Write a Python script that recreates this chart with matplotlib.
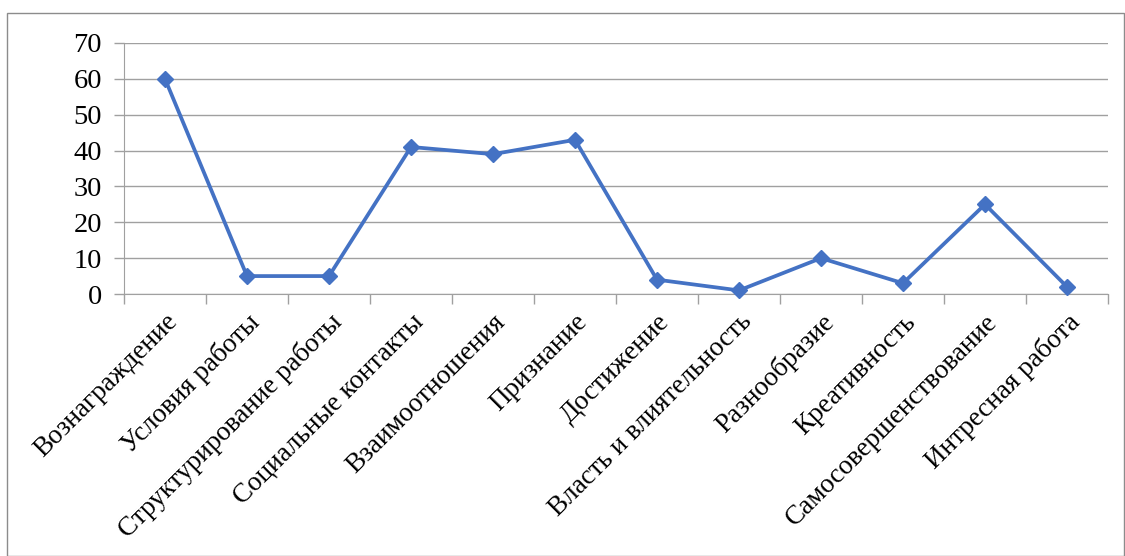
import matplotlib
matplotlib.use("Agg")
import matplotlib.pyplot as plt
from matplotlib.patches import Rectangle
import numpy as np

categories = ["Вознаграждение", "Условия работы", "Структурирование работы",
              "Социальные контакты", "Взаимоотношения", "Признание", "Достижение",
              "Власть и влиятельность", "Разнообразие", "Креативность",
              "Самосовершенствование", "Интресная работа"]
values = [60, 5, 5, 41, 39, 43, 4, 1, 10, 3, 25, 2]
yticks = [0, 10, 20, 30, 40, 50, 60, 70]

plt.rcParams['font.family'] = ['Liberation Serif', 'DejaVu Serif']

W, H = 1125, 556
fig = plt.figure(figsize=(W/100, H/100), dpi=100)
ax = fig.add_axes([124/W, 1-294/H, (1108-124)/W, (294-43)/H])

grid_c = "#A0A0A0"
line_c = "#4472C4"
n = len(categories)
x = np.arange(n)
ax.plot(x, values, color=line_c, linewidth=2.7, marker='D', markersize=8,
        markerfacecolor=line_c, markeredgecolor=line_c, zorder=3, clip_on=False)

ax.set_xlim(-0.5, n-0.5)
ax.set_ylim(0, 70)
ax.set_yticks(yticks)
ax.set_yticklabels([str(v) for v in yticks], fontsize=20.5)
ax.yaxis.grid(True, color=grid_c, linewidth=1)
ax.tick_params(axis='y', length=7, color=grid_c, width=1, pad=9)

ax.set_xticks(np.arange(-0.5, n, 1.0))
ax.set_xticklabels([])
ax.set_xticks(x, minor=True)
ax.set_xticklabels(categories, minor=True, rotation=45, ha='right',
                   rotation_mode='anchor', fontsize=19.5)
ax.tick_params(axis='x', which='major', length=7, color=grid_c, width=1)
ax.tick_params(axis='x', which='minor', length=0, pad=11)

for s in ['top', 'right']:
    ax.spines[s].set_visible(False)
ax.spines['left'].set_color(grid_c)
ax.spines['bottom'].set_color(grid_c)

fig.patches.append(Rectangle((7/W, 0), (1124-7)/W, 1-13/H, transform=fig.transFigure,
                             fill=False, edgecolor="#8C8C8C", linewidth=1))

fig.savefig("out.png", dpi=100)
